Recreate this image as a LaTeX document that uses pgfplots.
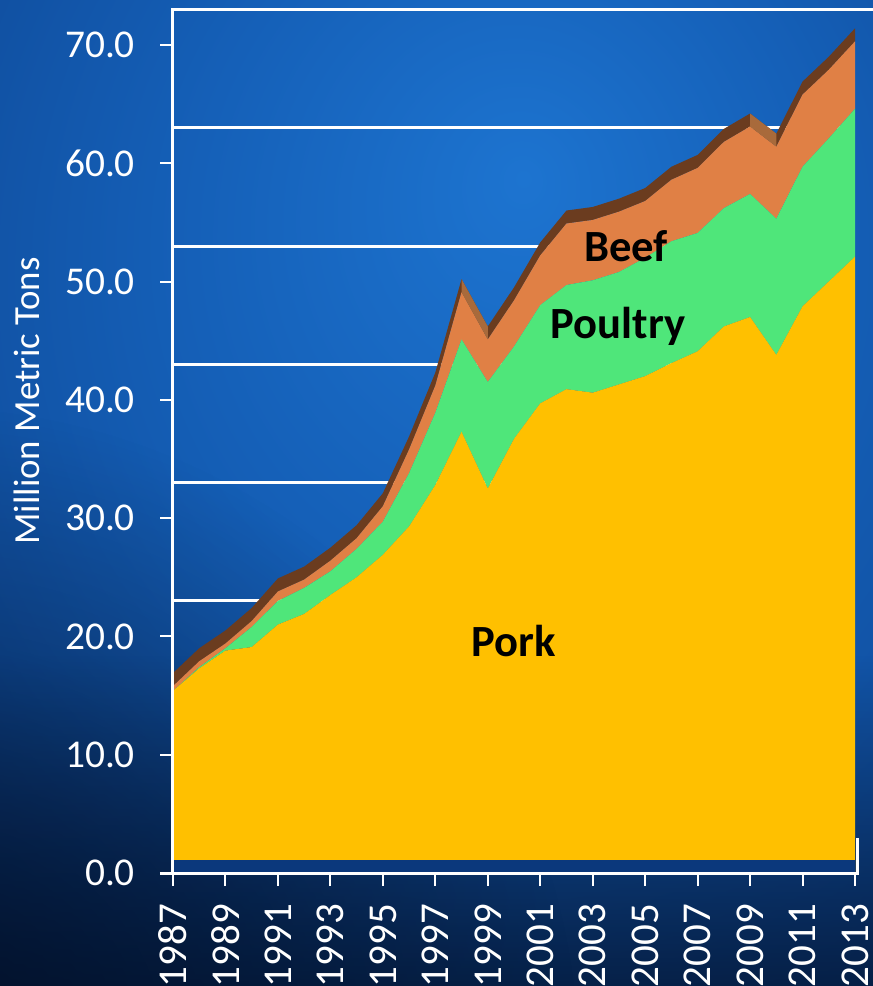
\documentclass[border=0pt]{standalone}
\usepackage{pgfplots}
\pgfplotsset{compat=1.18}
\usepackage{pgfplotstable}
\usetikzlibrary{fadings}
\usepackage{fontspec}
\setmainfont{Carlito}

\definecolor{porkc}{HTML}{FFC000}
\definecolor{poultc}{HTML}{4FE67A}
\definecolor{beefc}{HTML}{E08045}
\definecolor{rimdark}{HTML}{6B3C1F}
\definecolor{rimlight}{HTML}{A86A3B}
\definecolor{floorc}{HTML}{0B387C}
\definecolor{bgglow}{HTML}{1D74D0}
\definecolor{bgmid}{HTML}{1560B8}
\definecolor{bgedge}{HTML}{0E4896}
\definecolor{bgdark}{HTML}{061E4A}
\definecolor{bgnight}{HTML}{020E24}

\pgfdeclareradialshading{bgshade}{\pgfpoint{5bp}{16bp}}{%
  color(0bp)=(bgglow); color(18bp)=(bgmid); color(40bp)=(bgedge);
  color(70bp)=(bgdark); color(90bp)=(bgdark)}
\tikzfading[name=fadeup, top color=transparent!100, bottom color=transparent!0]
\tikzfading[name=cornerfade, inner color=transparent!0, outer color=transparent!100]

% Production by meat type, million metric tons
\pgfplotstableread{
year pork poultry beef rim
1987 15.4 0.0 0.4 1.1
1988 17.3 0.1 0.5 1.1
1989 18.8 0.2 0.4 1.1
1990 19.1 1.7 0.5 1.1
1991 21.0 2.0 0.8 1.1
1992 21.9 2.2 0.7 1.1
1993 23.5 2.0 0.9 1.1
1994 25.0 2.4 0.9 1.1
1995 26.9 2.8 1.3 1.1
1996 29.3 4.5 2.0 1.1
1997 32.8 6.1 2.3 1.1
1998 37.3 7.8 4.0 1.1
1999 32.5 9.0 3.6 1.1
2000 36.7 7.8 3.9 1.1
2001 39.7 8.3 4.2 1.1
2002 40.9 8.8 5.2 1.1
2003 40.6 9.5 5.1 1.1
2004 41.3 9.5 5.1 1.1
2005 42.0 10.0 4.8 1.1
2006 43.1 10.3 5.2 1.1
2007 44.1 10.0 5.5 1.1
2008 46.2 10.0 5.6 1.1
2009 47.0 10.4 5.7 1.1
2010 43.8 11.5 6.1 1.1
2011 47.9 11.8 6.1 1.1
2012 50.0 12.1 5.8 1.1
2013 52.1 12.5 5.7 1.1
}\meat

\pgfplotsset{
  chartbox/.style={
    at={(86.5pt,56.5pt)}, anchor=south west,
    scale only axis, width=341pt, height=431.8pt,
    xmin=1987, xmax=2013, ymin=0, ymax=73, clip=false},
}
\tikzset{lbl/.style={anchor=base, font=\bfseries\fontsize{22.3}{26}\selectfont}}

\begin{document}
\begin{tikzpicture}
\clip (0pt,0pt) rectangle (436.5pt,493pt);
\shade[shading=bgshade] (0pt,0pt) rectangle (436.5pt,493pt);
\fill[bgnight, path fading=fadeup, opacity=0.7] (0pt,0pt) rectangle (436.5pt,165pt);
\fill[bgnight, path fading=cornerfade, opacity=0.8] (-40pt,-40pt) circle (330pt);
\begin{axis}[
  chartbox,
  axis line style={draw=none},
  stack plots=y,
  xtick={1987,1989,...,2013},
  ytick={0,10,...,70},
  xtick pos=bottom, ytick pos=left,
  tick align=outside,
  major tick length=6.5pt,
  tick style={white, line width=1pt},
  /pgf/number format/assume math mode=true,
  xticklabel style={yshift=-5.5pt, rotate=90, anchor=east, text=white,
    font=\fontsize{20.5}{24}\selectfont},
  x tick label style={/pgf/number format/set thousands separator={}},
  yticklabel style={xshift=-9pt, text=white, font=\fontsize{19.7}{23}\selectfont},
  y tick label style={/pgf/number format/fixed, /pgf/number format/fixed zerofill,
    /pgf/number format/precision=1},
  extra y ticks={23,33,43,53,63},
  extra y tick labels={},
  extra y tick style={grid=major, major grid style={white, line width=1.5pt},
    major tick length=0pt},
  ylabel={Million Metric Tons},
  ylabel style={at={(axis description cs:-0.214,0.5465)}, anchor=center,
    text=white, font=\fontsize{18.4}{21}\selectfont},
]
\addplot[fill=porkc, draw=none] table[x=year, y=pork]{\meat} \closedcycle;
\addplot[fill=poultc, draw=none] table[x=year, y=poultry]{\meat} \closedcycle;
\addplot[fill=beefc, draw=none] table[x=year, y=beef]{\meat} \closedcycle;
% top rim of the 3-D area
\addplot[fill=rimdark, draw=none] table[x=year, y=rim]{\meat} \closedcycle;
\end{axis}
% overlay: lit rim faces, floor edge, frame and series names
\begin{axis}[chartbox, hide axis]
\addplot[fill=rimlight, draw=none] coordinates
  {(1998,49.1) (1999,45.1) (1999,46.2) (1998,50.2)} -- cycle;
\addplot[fill=rimlight, draw=none] coordinates
  {(2009,63.1) (2010,61.4) (2010,62.5) (2009,64.2)} -- cycle;
\fill[floorc] (axis cs:1987,0) rectangle (axis cs:2013,1.1);
\draw[white, line width=1.5pt] (axis cs:1987,0) -- (axis cs:1987,73) -- (axis cs:2013.7,73);
\draw[white, line width=1.5pt] (axis cs:1986.5,0) -- (axis cs:2013.08,0) -- (axis cs:2013.08,3);
\node[lbl] at (axis cs:2004.27,51.7) {Beef};
\node[lbl] at (axis cs:2003.96,45.2) {Poultry};
\node[lbl] at (axis cs:2000.0,18.3) {Pork};
\end{axis}
\end{tikzpicture}
\end{document}
